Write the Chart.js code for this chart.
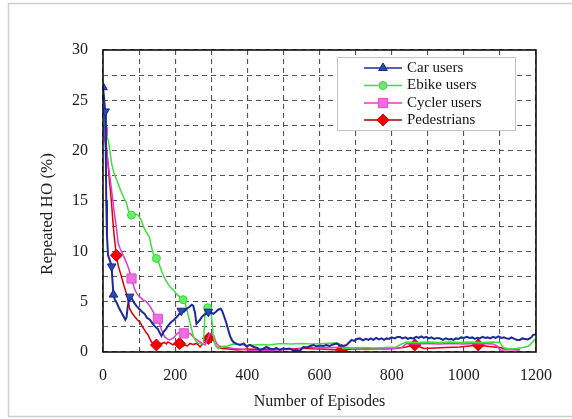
<!DOCTYPE html>
<html>
<head>
<meta charset="utf-8">
<script src="https://cdn.jsdelivr.net/npm/chart.js@4/dist/chart.umd.min.js"></script>
<style>
  html, body { margin: 0; padding: 0; background: #fff; }
  #wrap { width: 572px; height: 419px; }
</style>
</head>
<body>
<div id="wrap"><canvas id="c" width="572" height="419"></canvas></div>
<script>
// Repeated handover rate per user class versus training episodes: [episode, %]
const carUsers = [
  [0,26.3],[3,25.2],[6,23.9],[8,19],[9,15],[11,11.5],[14,9.6],[18,9.2],[24,8.5],[26,7.2],[29,5.7],
  [33,5.2],[38,4.9],[44,4.4],[50,4.0],[56,3.6],[62,3.2],[65,3.4],[69,4.6],[74,5.5],[80,5.3],[86,4.9],
  [92,4.6],[100,4.3],[108,4.0],[115,3.8],[122,3.4],[130,3.2],[138,2.8],[145,2.5],[152,2.3],[157,1.9],
  [162,1.6],[168,2.0],[175,2.3],[182,2.7],[190,3.0],[197,3.2],[205,3.5],[212,3.8],[217,4.1],[224,4.0],
  [232,4.3],[240,4.5],[246,4.7],[250,4.6],[255,3.9],[259,2.8],[264,3.0],[269,3.2],[274,3.5],[280,3.7],
  [286,3.8],[292,4.0],[299,3.9],[306,3.8],[313,4.0],[319,4.2],[326,4.3],[330,4.1],[333,3.8],[338,3.3],
  [342,2.85],[347,2.2],[352,1.6],[357,1.2],[361,1.0],[370,0.8],[380,0.7],[390,0.85],[398,0.55],[407,0.7],
  [418,0.5],[428,0.4],[435,0.2],[445,0.35],[453,0.5],[462,0.35],[472,0.25],[480,0.4],[490,0.2],[499,0.35],
  [508,0.3],[518,0.35],[527,0.15],[536,0.2],[545,0.1],[555,0.5],[565,0.45],[575,0.6],[583,0.7],[592,0.55],
  [600,0.65],[610,0.6],[619,0.7],[628,0.6],[638,0.75],[647,0.85],[656,0.65],[665,0.6],[675,0.7],[682,0.95],
  [689,1.2],[696,1.1],[704,1.3],[712,1.35],[720,1.15],[728,1.3],[736,1.2],[742,1.35],[749,1.2],[757,1.4],
  [765,1.25],[772,1.35],[779,1.2],[786,1.35],[793,1.3],[800,1.45],[808,1.35],[816,1.5],[823,1.5],[830,1.35],
  [838,1.45],[845,1.3],[852,1.4],[860,1.35],[868,1.5],[875,1.4],[882,1.55],[889,1.4],[896,1.5],[903,1.35],
  [910,1.45],[918,1.3],[926,1.4],[934,1.35],[942,1.2],[950,1.35],[958,1.25],[965,1.3],[971,1.2],[978,1.35],
  [985,1.3],[993,1.45],[1000,1.4],[1008,1.5],[1016,1.4],[1024,1.45],[1030,1.3],[1037,1.4],[1044,1.35],
  [1052,1.5],[1059,1.4],[1066,1.45],[1073,1.35],[1081,1.5],[1088,1.4],[1096,1.55],[1104,1.4],[1111,1.45],
  [1118,1.35],[1125,1.3],[1132,1.45],[1140,1.3],[1148,1.2],[1155,1.2],[1162,1.35],[1170,1.3],[1177,1.25],
  [1183,1.35],[1188,1.5],[1192,1.7],[1200,1.75]
];
const ebikeUsers = [
  [4,23.5],[6,22],[10,21.5],[15,21],[20,19.8],[24,18.7],[30,17.8],[38,17.1],[45,16.4],[52,15.8],[58,15.3],
  [65,14.8],[70,14.1],[75,13.4],[79,13.6],[82,13.8],[86,13.5],[90,13.7],[97,13.6],[102,13.3],[106,13.1],
  [113,12.4],[120,11.9],[125,11.6],[129,11.4],[134,10.5],[139,9.8],[144,9.5],[148,9.3],[153,9.0],[157,8.6],
  [164,7.9],[171,7.3],[178,6.9],[185,6.5],[194,6.2],[203,5.8],[212,5.5],[222,5.2],[227,4.9],[232,4.3],
  [239,3.2],[246,2.2],[250,1.6],[255,1.2],[264,0.85],[272,0.8],[278,0.85],[281,2.5],[283,4.2],[290,4.4],
  [296,4.3],[301,3.5],[305,1.8],[310,0.85],[315,0.5],[320,0.35],[330,0.55],[345,0.6],[361,0.8],[380,0.75],
  [398,0.65],[420,0.7],[440,0.75],[460,0.7],[490,0.85],[520,0.8],[550,0.85],[580,0.8],[610,0.85],[640,0.9],
  [655,0.85],[660,0.6],[665,0.35],[690,0.4],[720,0.45],[750,0.4],[780,0.45],[813,0.5],[825,0.75],[841,1.0],
  [870,0.95],[900,1.0],[930,0.95],[960,1.0],[990,0.95],[1020,1.0],[1050,0.95],[1080,1.0],[1100,0.95],
  [1106,0.6],[1112,0.4],[1127,0.3],[1145,0.35],[1164,0.45],[1180,0.6],[1187,0.85],[1195,1.2],[1200,1.35]
];
const cyclerUsers = [
  [0,21.9],[5,21],[10,20],[17,18],[24,16],[30,14.2],[37,12.4],[42,10.8],[47,10.3],[51,10],[56,9.6],[60,9.3],
  [66,8.8],[72,8.2],[79,7.3],[84,6.7],[88,6.2],[94,5.8],[101,5.5],[110,5.2],[120,5.0],[127,4.7],[134,4.3],
  [142,3.8],[152,3.3],[157,2.8],[162,2.2],[167,1.8],[171,1.5],[178,1.3],[185,1.2],[191,1.3],[198,1.5],
  [205,1.8],[212,2.0],[218,2.1],[224,1.85],[232,1.9],[241,1.85],[248,1.6],[255,1.35],[262,1.15],[269,1.0],
  [276,0.8],[283,0.7],[289,1.2],[296,1.85],[301,1.8],[306,1.7],[311,1.2],[315,0.85],[322,0.6],[333,0.5],
  [345,0.45],[361,0.35],[380,0.3],[400,0.2],[423,0.1],[450,0.15],[480,0.2],[510,0.25],[540,0.3],[564,0.5],
  [590,0.4],[620,0.45],[650,0.45],[666,0.5],[700,0.35],[727,0.25],[760,0.3],[800,0.35],[828,0.45],[841,0.85],
  [870,0.8],[900,0.85],[930,0.8],[966,0.85],[1000,0.8],[1040,0.85],[1081,0.8],[1092,0.6],[1100,0.2],
  [1109,0.2],[1130,0.25],[1155,0.2]
];
const pedestrians = [
  [3,22.5],[8,21],[13,19],[18,17],[23,15.1],[27,13.2],[31,11.5],[37,9.6],[42,8.6],[47,8.0],[51,7.5],
  [58,6.6],[65,5.8],[70,5.0],[74,4.3],[80,3.9],[88,3.5],[95,3.2],[102,3.0],[108,2.6],[115,2.2],[120,1.9],
  [125,1.7],[130,1.3],[134,1.0],[140,0.85],[148,0.7],[155,0.8],[162,0.85],[170,0.95],[176,0.8],[180,1.0],
  [187,0.85],[194,0.7],[200,0.8],[206,1.0],[212,0.85],[221,0.55],[227,0.7],[234,0.6],[241,0.85],[250,0.75],
  [260,0.85],[269,0.5],[276,0.8],[283,1.0],[292,1.35],[301,1.7],[306,1.2],[311,0.8],[315,0.5],[329,0.35],
  [350,0.3],[371,0.2],[400,0.3],[430,0.25],[460,0.3],[490,0.25],[520,0.3],[540,0.35],[564,0.35],[600,0.3],
  [630,0.25],[661,0.2],[690,0.3],[720,0.3],[750,0.35],[780,0.3],[810,0.35],[840,0.5],[864,0.7],[890,0.35],
  [920,0.4],[950,0.45],[989,0.5],[1015,0.6],[1040,0.7],[1070,0.55],[1100,0.45],[1120,0.3],[1140,0.25],
  [1155,0.25]
];

// Episodes that carry a plotted symbol on each curve
const carMarked = [0, 6, 24, 29, 74, 217, 292];
const carFlipped = [6, 24, 74, 217, 292];
const ebikeMarked = [79, 148, 222, 290];
const cyclerMarked = [0, 79, 152, 224];
const pedMarked = [37, 148, 212, 292, 661, 864, 1040];

const seriesNames = ['Car users', 'Ebike users', 'Cycler users', 'Pedestrians'];
const xTitle = 'Number of Episodes';
const yTitle = 'Repeated HO (%)';
const xTickStep = 100, xLabelStep = 200, xMax = 1200;
const yTickStep = 2.5, yLabelStep = 5, yMax = 30;

const SERIF = "'Liberation Serif', 'Times New Roman', serif";
const toPoints = arr => arr.map(([x, y]) => ({ x, y }));
const markAt = (list, r) => ctx => (ctx.raw && list.includes(ctx.raw.x)) ? r : 0;

function makeSet(label, data, marked, style) {
  return {
    label,
    data: toPoints(data),
    borderColor: style.line,
    backgroundColor: style.fill,
    borderWidth: style.width,
    pointStyle: style.shape,
    pointBackgroundColor: style.fill,
    pointBorderColor: style.edge,
    pointBorderWidth: 1,
    pointRadius: markAt(marked, style.radius),
    pointHoverRadius: 0,
    pointRotation: style.rotation || 0,
    tension: 0,
    legendRadius: style.radius
  };
}

const datasets = [
  makeSet(seriesNames[0], carUsers, carMarked, {
    line: '#1c2a9a', fill: '#2a4ab8', edge: '#1a2680', width: 2, shape: 'triangle', radius: 5,
    rotation: ctx => (ctx.raw && carFlipped.includes(ctx.raw.x)) ? 180 : 0
  }),
  makeSet(seriesNames[1], ebikeUsers, ebikeMarked, {
    line: '#3ee03e', fill: '#66ee66', edge: '#3ed83e', width: 1.5, shape: 'circle', radius: 4
  }),
  makeSet(seriesNames[2], cyclerUsers, cyclerMarked, {
    line: '#dc3ccc', fill: '#ee6ee0', edge: '#dc50d0', width: 1.5, shape: 'rect', radius: 6.5
  }),
  makeSet(seriesNames[3], pedestrians, pedMarked, {
    line: '#e00000', fill: '#ee0000', edge: '#dd0000', width: 1.5, shape: 'rectRot', radius: 6
  })
];

// Light page frame, the solid plot frame and the vertical axis title
const framePlugin = {
  id: 'frames',
  beforeDraw(chart) {
    const ctx = chart.ctx;
    ctx.save();
    ctx.fillStyle = '#ffffff';
    ctx.fillRect(0, 0, chart.width, chart.height);
    ctx.strokeStyle = '#cfcfcf';
    ctx.lineWidth = 1.5;
    ctx.beginPath();
    ctx.moveTo(chart.width, 3.5);
    ctx.lineTo(8.5, 3.5);
    ctx.lineTo(8.5, 416.5);
    ctx.lineTo(chart.width, 416.5);
    ctx.stroke();
    ctx.restore();
  },
  afterDatasetsDraw(chart) {
    const { ctx, chartArea: a } = chart;
    ctx.save();
    ctx.strokeStyle = '#111';
    ctx.lineWidth = 1.6;
    ctx.strokeRect(a.left, a.top, a.right - a.left, a.bottom - a.top);
    ctx.translate(48, a.top + (a.bottom - a.top) / 2 + 13);
    ctx.rotate(-Math.PI / 2);
    ctx.fillStyle = '#1c1c1c';
    ctx.font = '17px ' + SERIF;
    ctx.textAlign = 'center';
    ctx.textBaseline = 'middle';
    ctx.fillText(yTitle, 0, 0);
    ctx.restore();
  }
};

// Boxed key inside the plot with a line sample and symbol per series
const keyPlugin = {
  id: 'keyBox',
  afterDraw(chart) {
    const ctx = chart.ctx;
    const box = { x: 337, y: 57, w: 178, h: 73 };
    const rows = [68, 85.5, 103, 120];
    ctx.save();
    ctx.fillStyle = '#fff';
    ctx.fillRect(box.x, box.y, box.w, box.h);
    ctx.strokeStyle = '#c4c4c4';
    ctx.lineWidth = 1;
    ctx.strokeRect(box.x + 0.5, box.y + 0.5, box.w, box.h);
    chart.data.datasets.forEach((ds, i) => {
      const y = rows[i];
      ctx.strokeStyle = i === 3 ? '#a00000' : ds.borderColor;
      ctx.lineWidth = 1.5;
      ctx.beginPath();
      ctx.moveTo(364, y);
      ctx.lineTo(402, y);
      ctx.stroke();
      ctx.fillStyle = ds.pointBackgroundColor;
      ctx.strokeStyle = ds.pointBorderColor;
      ctx.lineWidth = 1;
      Chart.helpers.drawPoint(ctx, {
        pointStyle: ds.pointStyle, radius: ds.legendRadius, rotation: 0, borderWidth: 1
      }, 383, y);
      ctx.fillStyle = '#141414';
      ctx.font = '15px ' + SERIF;
      ctx.textBaseline = 'middle';
      ctx.textAlign = 'left';
      ctx.fillText(ds.label, 407, y);
    });
    ctx.restore();
  }
};

new Chart(document.getElementById('c'), {
  type: 'line',
  data: { datasets },
  options: {
    responsive: false,
    animation: false,
    devicePixelRatio: 1,
    layout: { padding: { left: 0, right: 36, top: 50, bottom: 0 } },
    plugins: { legend: { display: false }, tooltip: { enabled: false } },
    scales: {
      x: {
        type: 'linear',
        min: 0, max: xMax,
        afterFit(scale) { scale.height = 67; },
        ticks: {
          stepSize: xTickStep,
          autoSkip: false,
          maxRotation: 0,
          padding: 14,
          color: '#1c1c1c',
          font: { family: SERIF, size: 16 },
          callback: v => (v % xLabelStep === 0 ? String(v) : '')
        },
        grid: { color: '#555', lineWidth: 1.1, drawTicks: false },
        border: { display: false, dash: [5, 4] },
        title: {
          display: true, text: xTitle, color: '#1c1c1c',
          font: { family: SERIF, size: 16 }, padding: { top: 0, bottom: 8 }
        }
      },
      y: {
        type: 'linear',
        min: 0, max: yMax,
        afterFit(scale) { scale.width = 103; },
        ticks: {
          stepSize: yTickStep,
          autoSkip: false,
          padding: 15,
          color: '#1c1c1c',
          font: { family: SERIF, size: 16 },
          callback: v => (v % yLabelStep === 0 ? String(v) : '')
        },
        grid: { color: '#555', lineWidth: 1.1, drawTicks: false },
        border: { display: false, dash: [5, 4] },
        title: { display: false }
      }
    }
  },
  plugins: [framePlugin, keyPlugin]
});
</script>
</body>
</html>
